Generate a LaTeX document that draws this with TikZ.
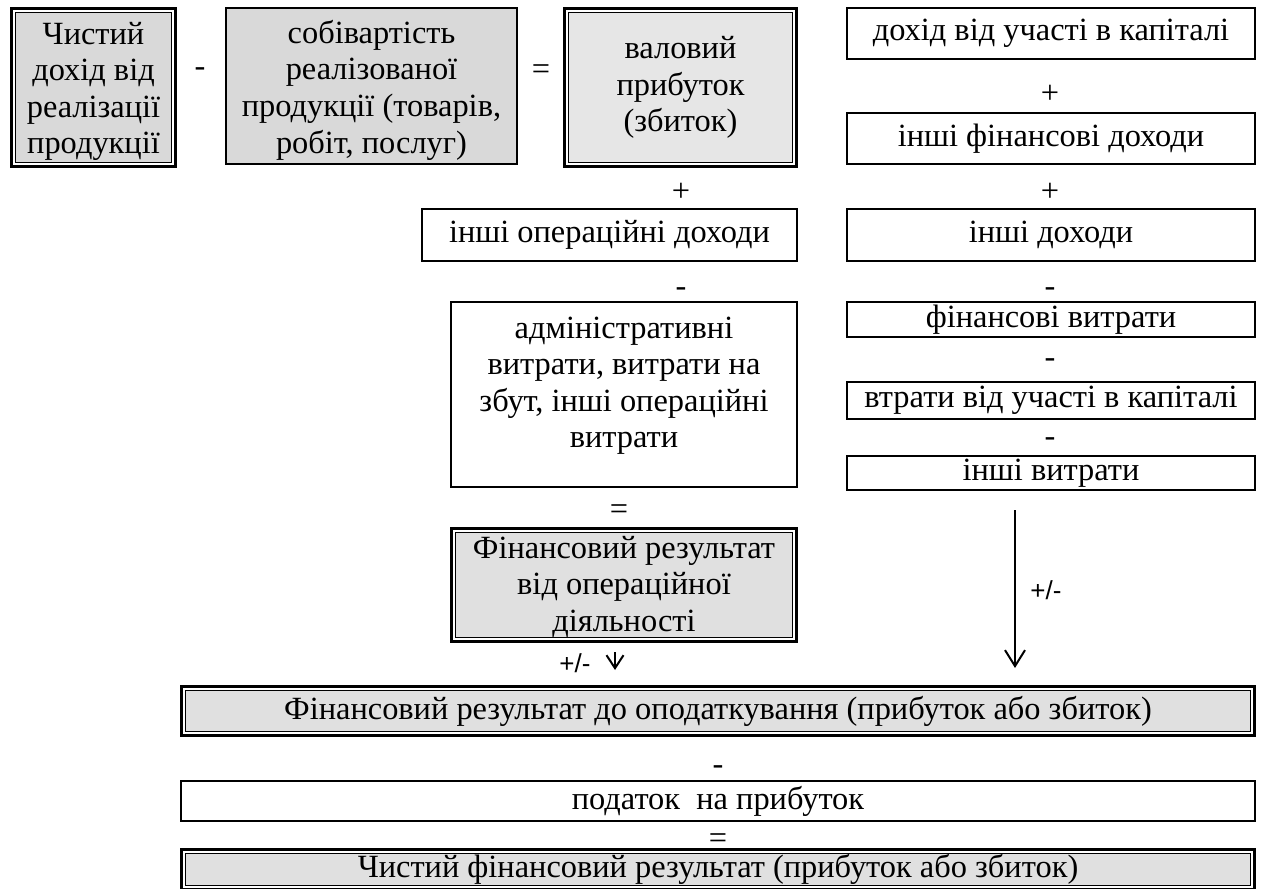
\documentclass[tikz,border=0pt]{standalone}
\usepackage{fontspec}
\setmainfont{Liberation Serif}
\newfontfamily\pmfont{Liberation Sans}
\usepackage{tikz}
\usetikzlibrary{positioning,arrows.meta}

\definecolor{boxgray}{HTML}{D9D9D9}
\definecolor{valgray}{HTML}{E6E6E6}
\definecolor{resgray}{HTML}{E0E0E0}

\tikzset{
  txt/.style={font=\fontsize{16.2}{18.3}\selectfont},
  box/.style={txt, draw, line width=0.9pt, align=center, inner xsep=2pt, inner ysep=1pt, anchor=north west},
  dblbox/.style={box, line width=0.5pt, double=white, double distance=0.8pt,
    preaction={draw=black, line width=3.8pt}, outer sep=1.9pt, inner xsep=2.5pt, inner ysep=1.3pt},
  boxtext/.style={txt, align=center, inner sep=0pt},
  sign/.style={txt, inner sep=0pt},
  pm/.style={font=\pmfont\fontsize{13}{15}\selectfont, inner sep=0pt},
  arr_big/.style={line width=1pt, -{Straight Barb[length=8pt, width=10pt, line width=1pt]}},
  arr_small/.style={line width=1pt, -{Straight Barb[length=6.5pt, width=8.5pt, line width=1pt]}}
}

\begin{document}
\begin{tikzpicture}[x=0.5pt,y=-0.5pt]
  \useasboundingbox (0,0) rectangle (1262,888);

       % top row
        \node[dblbox, fill=boxgray, minimum width=79.7pt, minimum height=76.7pt] (dohid_real) at (10,7) {}; %
        \node[box, fill=boxgray, right = 24pt of dohid_real.north east, anchor=north west, minimum width=145.6pt, minimum height=78.1pt] (sobivart) {}; %
        \node[dblbox, fill=valgray, right = 22.5pt of sobivart.north east, anchor=north west, minimum width=113.7pt, minimum height=76.7pt] (val_prib) {валовий\\прибуток\\(збиток)}; %
        \node[boxtext] (dohid_real_t) at ([yshift=-2pt]dohid_real.center) {Чистий\\дохід від\\реалізації\\продукції}; %
        \node[boxtext] (sobivart_t) at ([yshift=-2pt]sobivart.center) {собівартість\\реалізованої\\продукції (товарів,\\робіт, послуг)}; %

       % right column
        \node[box, minimum width=204.1pt, minimum height=25.6pt] (dohid_kap) at (846,7) {дохід від участі в капіталі}; %
        \node[box, below = 26pt of dohid_kap, anchor=north, minimum width=204.1pt, minimum height=25.6pt] (fin_doh) {інші фінансові доходи}; %
        \node[box, below = 21.5pt of fin_doh, anchor=north, minimum width=204.1pt, minimum height=26.1pt] (inshi_doh) {інші доходи}; %
        \node[box, below = 19.5pt of inshi_doh, anchor=north, minimum width=204.1pt, minimum height=17.6pt] (fin_vytr) {фінансові витрати}; %
        \node[box, below = 21.5pt of fin_vytr, anchor=north, minimum width=204.1pt, minimum height=18.6pt] (vtraty_kap) {втрати від участі в капіталі}; %
        \node[box, below = 17.5pt of vtraty_kap, anchor=north, minimum width=204.1pt, minimum height=17.1pt] (inshi_vytr) {інші витрати}; %

       % middle column
        \node[box, below = 20pt of val_prib.south east, anchor=north east, minimum width=187.6pt, minimum height=26.1pt] (oper_doh) {інші операційні доходи}; %
        \node[box, below = 19.5pt of oper_doh.south east, anchor=north east, minimum width=173.1pt, minimum height=92.6pt] (oper_vytr) {адміністративні\\витрати, витрати на\\збут, інші операційні\\витрати\\[-6pt]\mbox{}}; %
        \node[dblbox, fill=resgray, below = 19.5pt of oper_vytr, anchor=north, minimum width=170.2pt, minimum height=54.2pt] (fin_oper) {}; %
        \node[boxtext] (fin_oper_t) at ([yshift=-1pt]fin_oper.center) {Фінансовий результат\\від операційної\\діяльності}; %

       % bottom rows
        \node[dblbox, fill=resgray, minimum width=534.2pt, minimum height=22.2pt] (fin_pod) at (180,685) {Фінансовий результат до оподаткування (прибуток або збиток)}; %
        \node[box, below = 21.5pt of fin_pod, anchor=north, minimum width=537.1pt, minimum height=20.1pt] (podatok) {податок\ \ на прибуток}; %
        \node[dblbox, fill=resgray, below = 13pt of podatok, anchor=north, minimum width=534.2pt, minimum height=15.2pt] (chystyi) {Чистий фінансовий результат (прибуток або збиток)}; %

       % signs
        \node[sign] (s_minus_a) at (200,72) {-};
        \node[sign] (s_eq_a) at (541,72) {=};
        \node[sign] (s_plus_r1) at (1050,94) {+};
        \node[sign] (s_plus_r2) at (1050,192) {+};
        \node[sign] (s_plus_m) at (681,192) {+};
        \node[sign] (s_minus_m) at (681,292) {-};
        \node[sign] (s_minus_r1) at (1050,292) {-};
        \node[sign] (s_minus_r2) at (1050,363) {-};
        \node[sign] (s_minus_r3) at (1050,442) {-};
        \node[sign] (s_eq_m) at (619,512) {=};
        \node[sign] (s_minus_b) at (718,770) {-};
        \node[sign] (s_eq_b) at (718,841) {=};

       % arrows
        \coordinate (op_arr) at ([xshift=-4.5pt]fin_oper.south);
        \coordinate (pm_top) at (1015,510);
        \draw[arr_small, shorten <=4.5pt, shorten >=7.5pt] (op_arr) -- (op_arr |- fin_pod.north);
        \draw[arr_big, shorten >=8.5pt] (pm_top) -- (pm_top |- fin_pod.north);
        \node[pm] (pm_left) at (575,663) {+/-};
        \node[pm] (pm_right) at (1046,590) {+/-};

\end{tikzpicture}
\end{document}
